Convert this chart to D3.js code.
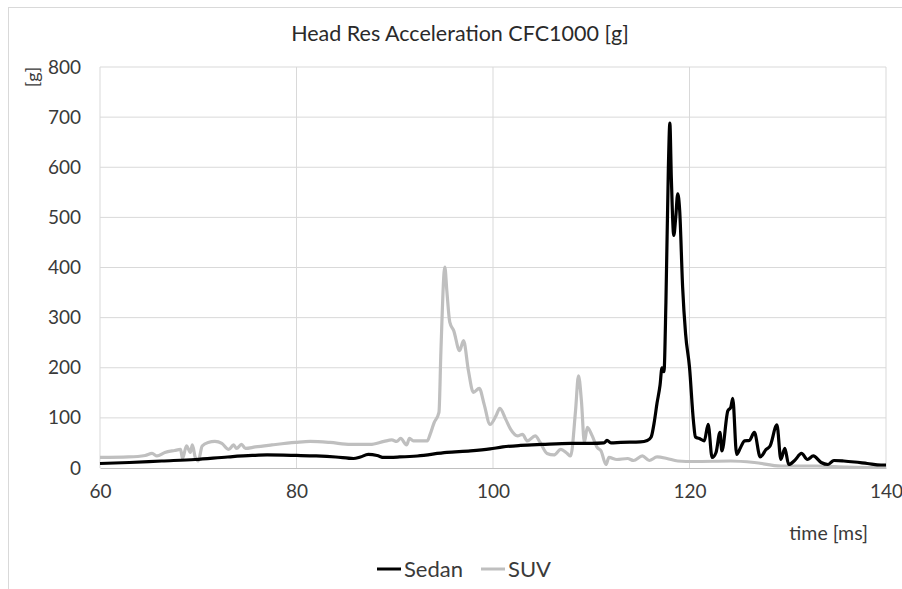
<!DOCTYPE html>
<html><head><meta charset="utf-8">
<script src="https://cdn.jsdelivr.net/npm/d3@7"></script>
<style>body{margin:0;background:#fff}svg{display:block;font-family:Lato,"Open Sans",sans-serif}</style>
</head><body>
<svg id="c" width="902" height="589"></svg>
<script>
const title = "Head Res Acceleration CFC1000 [g]";
const xTicks = [60, 80, 100, 120, 140];
const yTicks = [0, 100, 200, 300, 400, 500, 600, 700, 800];
const seriesNames = ["Sedan", "SUV"];
const sedanT = [60,63,66.3,69.7,73,75.5,77,80,82,84,85.8,86.5,87.3,88.2,88.9,90.5,92.3,95.3,97.7,99.7,101,102.8,105,107.9,110,111.3,111.6,112,113,115,115.7,116.1,116.4,116.7,117.0,117.2,117.4,117.6,117.85,118.0,118.15,118.4,118.6,118.8,119.0,119.3,119.6,120.0,120.4,120.6,121.1,121.5,121.9,122.3,122.7,123.1,123.3,123.9,124.2,124.4,124.8,125.2,125.6,126.1,126.6,127.2,127.8,128.2,128.9,129.3,129.7,130.1,130.7,131.4,132.0,132.6,133.4,134.1,134.7,135.7,136.8,138.1,139.5,140];
const sedanV = [9,11,14,17,22,25,26,25,24,22,19,22,27,25,21,22,24,31,34,38,42,45,47,49,49,50,55,50,51,52,55,62,90,130,165,200,192,330,600,688,580,464,500,547,514,361,268,201,94,62,58,54,87,21,31,71,34,114,121,139,27,41,54,55,71,22,37,44,86,17,39,7,15,29,17,24,11,7,15,14,12,9,6,6];
const suvT = [60,62.9,64.6,65.3,65.8,66.6,67.6,68.2,68.4,68.8,69.2,69.4,69.7,70.0,70.4,71.0,71.7,72.4,73.1,73.6,73.9,74.4,74.8,75.8,77.5,79.9,81.4,83.4,85.5,87.5,88.9,89.7,90.2,90.6,91.2,91.5,91.9,93.3,93.6,94.0,94.5,94.7,95.1,95.3,95.6,96.0,96.6,97.0,97.5,98.0,98.6,99.1,99.7,100.3,100.7,101.3,101.8,102.5,103.0,103.5,104.3,104.8,105.5,106.2,106.9,107.5,107.9,108.4,108.7,109.0,109.3,109.6,110.1,110.6,111.0,111.5,111.8,112.6,113.7,114.3,115.2,115.9,116.7,117.7,118.8,120.5,124.2,126.6,129.3,133,136,140];
const suvV = [21,22,25,29,24,31,35,37,19,44,31,46,21,14,44,51,53,49,37,46,39,47,39,42,46,51,53,51,47,47,53,56,53,59,46,59,54,54,67,90,111,234,401,354,291,274,234,254,194,151,159,127,87,104,119,97,77,64,67,54,64,51,29,26,37,30,24,114,184,134,51,81,64,41,34,7,21,17,19,15,24,15,22,19,14,13,14,11,4,4,2,1];

const svg = d3.select("#c");
const x = d3.scaleLinear().domain([60, 140]).range([100, 886]);
const y = d3.scaleLinear().domain([0, 800]).range([468, 67]);

// outer chart border
svg.append("rect").attr("x", 8.5).attr("y", 7.5).attr("width", 920).attr("height", 620)
  .attr("fill", "none").attr("stroke", "#d9d9d9").attr("stroke-width", 1);

// gridlines
svg.append("g").selectAll("line").data(yTicks.filter(d => d > 0)).join("line")
  .attr("x1", x(60)).attr("x2", x(140)).attr("y1", d => y(d)).attr("y2", d => y(d))
  .attr("stroke", "#d9d9d9").attr("stroke-width", 1);
svg.append("g").selectAll("line").data(xTicks).join("line")
  .attr("x1", d => x(d)).attr("x2", d => x(d)).attr("y1", y(0)).attr("y2", y(800))
  .attr("stroke", "#d9d9d9").attr("stroke-width", 1);

// axes
const xAxis = svg.append("g").attr("transform", `translate(0,${y(0)})`)
  .call(d3.axisBottom(x).tickValues(xTicks).tickSize(0).tickPadding(17).tickFormat(d3.format("d")));
xAxis.select(".domain").attr("stroke", "#bfbfbf").attr("stroke-width", 1.2);
xAxis.selectAll("text").attr("font-size", 19).attr("fill", "#3a3a3a").attr("font-family", "Lato");

const yAxis = svg.append("g").attr("transform", `translate(${x(60)},0)`)
  .call(d3.axisLeft(y).tickValues(yTicks).tickSize(0).tickPadding(19).tickFormat(d3.format("d")));
yAxis.select(".domain").remove();
yAxis.selectAll("text").attr("font-size", 19).attr("fill", "#3a3a3a").attr("font-family", "Lato");

// lines
const line = d3.line().x(d => x(d[0])).y(d => y(d[1])).curve(d3.curveMonotoneX);
const suv = suvT.map((t, i) => [t, suvV[i]]);
const sedan = sedanT.map((t, i) => [t, sedanV[i]]);
svg.append("path").datum(suv).attr("d", line).attr("fill", "none")
  .attr("stroke", "#bfbfbf").attr("stroke-width", 3.2).attr("stroke-linejoin", "round");
svg.append("path").datum(sedan).attr("d", line).attr("fill", "none")
  .attr("stroke", "#000").attr("stroke-width", 3.2).attr("stroke-linejoin", "round");

// title and axis labels
svg.append("text").attr("x", 460).attr("y", 41).attr("text-anchor", "middle")
  .attr("font-size", 21.5).attr("fill", "#2a2a2a").text(title);
svg.append("text").attr("transform", "translate(39,77) rotate(-90)").attr("text-anchor", "middle")
  .attr("font-size", 18).attr("fill", "#3a3a3a").text("[g]");
svg.append("text").attr("x", 868).attr("y", 540).attr("text-anchor", "end")
  .attr("font-size", 19.5).attr("fill", "#3a3a3a").text("time [ms]");

// legend
const leg = [{name: seriesNames[0], color: "#000", x: 377}, {name: seriesNames[1], color: "#bfbfbf", x: 481}];
const lg = svg.append("g");
leg.forEach(l => {
  lg.append("line").attr("x1", l.x).attr("x2", l.x + 24).attr("y1", 569).attr("y2", 569)
    .attr("stroke", l.color).attr("stroke-width", 3);
  lg.append("text").attr("x", l.x + 27).attr("y", 577).attr("font-size", 22).attr("fill", "#3a3a3a").text(l.name);
});
</script>
</body></html>
